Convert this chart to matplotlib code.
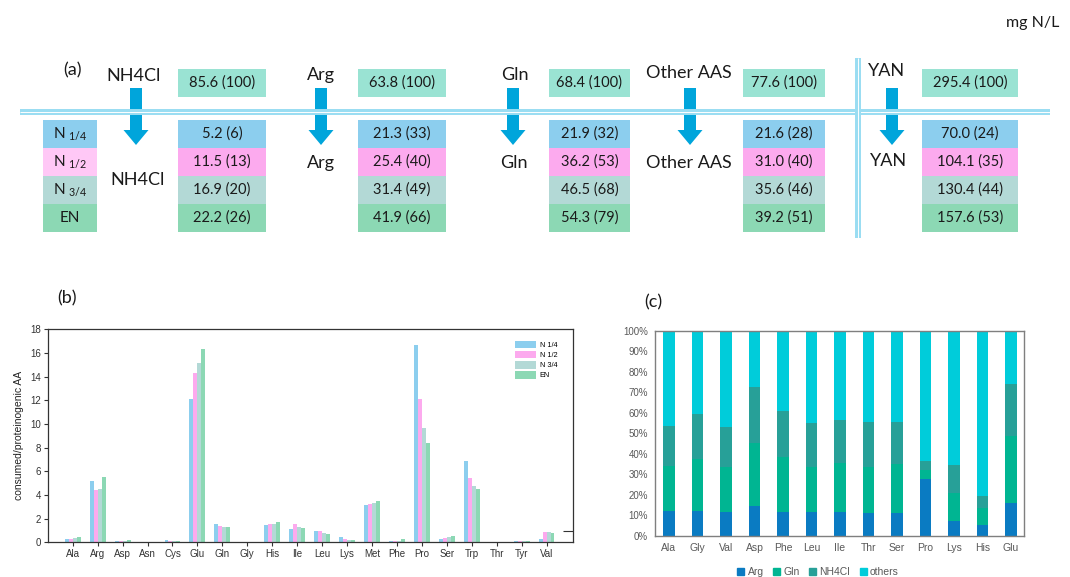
import matplotlib
matplotlib.use("Agg")
import matplotlib.pyplot as plt
import numpy as np
from matplotlib.patches import Rectangle, FancyArrow, Patch

# ---------------- data ----------------
# (a) nitrogen balance, mg N/L
sources = ['NH4Cl', 'Arg', 'Gln', 'Other AAS', 'YAN']
totals = ['85.6 (100)', '63.8 (100)', '68.4 (100)', '77.6 (100)', '295.4 (100)']
cond_labels = [r'N $\mathregular{_{1/4}}$', r'N $\mathregular{_{1/2}}$', r'N $\mathregular{_{3/4}}$', 'EN']
nh4cl_vals = ['5.2 (6)', '11.5 (13)', '16.9 (20)', '22.2 (26)']
arg_vals = ['21.3 (33)', '25.4 (40)', '31.4 (49)', '41.9 (66)']
gln_vals = ['21.9 (32)', '36.2 (53)', '46.5 (68)', '54.3 (79)']
other_vals = ['21.6 (28)', '31.0 (40)', '35.6 (46)', '39.2 (51)']
yan_vals = ['70.0 (24)', '104.1 (35)', '130.4 (44)', '157.6 (53)']

# (b) consumed / proteinogenic AA
aa_b = ['Ala', 'Arg', 'Asp', 'Asn', 'Cys', 'Glu', 'Gln', 'Gly', 'His', 'Ile',
        'Leu', 'Lys', 'Met', 'Phe', 'Pro', 'Ser', 'Trp', 'Thr', 'Tyr', 'Val']
n14 = [0.27, 5.15, 0.14, 0, 0.17, 12.1, 1.55, 0, 1.49, 1.15, 0.93, 0.44, 3.15, 0.14, 16.7, 0.30, 6.87, 0, 0.12, 0.28]
n12 = [0.30, 4.40, 0.14, 0, 0.15, 14.3, 1.40, 0, 1.55, 1.57, 0.93, 0.28, 3.20, 0.14, 12.15, 0.35, 5.47, 0, 0.10, 0.85]
n34 = [0.33, 4.50, 0.15, 0, 0.10, 15.15, 1.30, 0, 1.56, 1.27, 0.80, 0.22, 3.30, 0.15, 9.65, 0.45, 4.73, 0, 0.10, 0.87]
en = [0.42, 5.50, 0.17, 0, 0.10, 16.3, 1.30, 0, 1.69, 1.18, 0.73, 0.20, 3.52, 0.25, 8.40, 0.55, 4.48, 0, 0.12, 0.80]
series_b = ['N 1/4', 'N 1/2', 'N 3/4', 'EN']

# (c) origin of N in AA (%)
aa_c = ['Ala', 'Gly', 'Val', 'Asp', 'Phe', 'Leu', 'Ile', 'Thr', 'Ser', 'Pro', 'Lys', 'His', 'Glu']
c_arg = [12.2, 12.2, 11.7, 14.8, 11.7, 11.9, 11.7, 11.0, 11.4, 27.8, 7.5, 5.2, 15.9]
c_gln = [22.1, 25.1, 21.7, 30.5, 26.6, 21.5, 23.7, 22.4, 23.7, 4.3, 13.3, 8.4, 33.0]
c_nh4 = [19.3, 22.3, 19.7, 27.1, 22.6, 21.6, 21.1, 22.0, 20.3, 4.3, 13.9, 5.9, 25.1]
c_oth = [46.4, 40.4, 46.9, 27.6, 39.1, 45.0, 43.5, 44.6, 44.6, 63.6, 65.3, 80.5, 26.0]
series_c = ['Arg', 'Gln', 'NH4Cl', 'others']

# ---------------- figure ----------------
W, H = 1070, 577
fig = plt.figure(figsize=(W / 100, H / 100), dpi=100)
fa = 'Lato'
fb = 'Liberation Sans'
tc = '#1a1a1a'

ov = fig.add_axes([0, 0, 1, 1])
ov.set_xlim(0, W)
ov.set_ylim(H, 0)
ov.axis('off')

col_colors = ['#8CCEEE', '#FCAAEE', '#B3D9D6', '#8CD8B4']
leg_colors = ['#8CCEEE', '#FFC8F6', '#B3D9D6', '#8CD8B4']
top_color = '#9AE3D3'
arrow_color = '#00A5DB'
line_color = '#9ADDF2'

# horizontal and vertical double lines
ov.plot([20, 1050], [112, 112], color=line_color, lw=4.3, solid_capstyle='butt')
ov.plot([20, 1050], [112, 112], color='white', lw=0.7, solid_capstyle='butt')
ov.plot([858, 858], [58, 238], color=line_color, lw=4.3, solid_capstyle='butt')
ov.plot([858, 858], [58, 238], color='white', lw=0.7, solid_capstyle='butt')

ov.text(73, 70, '(a)', fontsize=13, family=fa, ha='center', va='center', color=tc)
ov.text(1033, 23, 'mg N/L', fontsize=11.5, family=fa, ha='center', va='center', color=tc)

# legend column
row_h = 28
y0 = 120
for i, (lab, c) in enumerate(zip(cond_labels, leg_colors)):
    ov.add_patch(Rectangle((43, y0 + i * row_h), 54, row_h, color=c, lw=0))
    ov.text(70, y0 + i * row_h + row_h / 2, lab, fontsize=11, family=fa,
            ha='center', va='center', color=tc)

box_x = [(178, 88), (358, 88), (549, 81), (743, 82), (922, 96)]
arrow_x = [136, 321, 513, 690, 892]
top_lab = [(134, 76), (321, 75), (515, 75), (689, 73), (887, 71)]
low_lab = [(138, 180), (321, 163), (514, 163), (689, 163), (889, 161)]
col_vals = [nh4cl_vals, arg_vals, gln_vals, other_vals, yan_vals]

for k, src in enumerate(sources):
    bx, bw = box_x[k]
    ov.add_patch(Rectangle((bx, 69), bw, 28, color=top_color, lw=0))
    ov.text(bx + bw / 2, 83, totals[k], fontsize=10.5, family=fa, ha='center', va='center', color=tc)
    for i, v in enumerate(col_vals[k]):
        ov.add_patch(Rectangle((bx, y0 + i * row_h), bw, row_h, color=col_colors[i], lw=0))
        ov.text(bx + bw / 2, y0 + i * row_h + row_h / 2, v, fontsize=10.5, family=fa,
                ha='center', va='center', color=tc)
    ov.text(top_lab[k][0], top_lab[k][1], src, fontsize=13, family=fa, ha='center', va='center', color=tc)
    ov.text(low_lab[k][0], low_lab[k][1], src, fontsize=13, family=fa, ha='center', va='center', color=tc)
    ov.add_patch(FancyArrow(arrow_x[k], 88, 0, 57, width=12, head_width=25, head_length=15,
                            length_includes_head=True, color=arrow_color, lw=0))

ov.text(67, 298, '(b)', fontsize=13, family=fa, ha='center', va='center', color=tc)
ov.text(653, 302, '(c)', fontsize=13, family=fa, ha='center', va='center', color=tc)

# ---------------- (b) ----------------
axb = fig.add_axes([48.3 / W, 1 - 542.3 / H, (572.7 - 48.3) / W, 213 / H])
x = np.arange(len(aa_b))
bw = 0.16
for j, (vals, c) in enumerate(zip([n14, n12, n34, en], col_colors)):
    axb.bar(x + (j - 1.5) * bw, vals, width=bw, color=[c], lw=0, label=series_b[j])
axb.set_xlim(-0.98, 20.05)
axb.set_ylim(0, 18)
axb.set_yticks(np.arange(0, 19, 2))
axb.set_xticks(x)
axb.set_xticklabels(aa_b, family=fb, fontsize=7, color='#333333')
for t in axb.get_yticklabels():
    t.set_family(fb)
    t.set_fontsize(7)
    t.set_color('#333333')
axb.tick_params(axis='both', length=3, width=0.8, color='#333333', pad=2)
axb.set_ylabel('consumed/proteinogenic AA', family=fb, fontsize=7.5, color='#222222', labelpad=5)
for s in axb.spines.values():
    s.set_color('#333333')
    s.set_linewidth(0.9)
axb2 = axb.twinx()
axb2.set_ylim(0, 18)
axb2.set_yticks([0.95])
axb2.set_yticklabels([''])
axb2.tick_params(axis='y', direction='in', length=7, width=0.8, color='#333333')
for s in ['top', 'left', 'bottom', 'right']:
    axb2.spines[s].set_visible(False)
leg = axb.legend(loc='upper left', bbox_to_anchor=(0.885, 0.96), frameon=False,
                 prop={'family': fb, 'size': 5.3}, handlelength=2.8, handleheight=1.2,
                 labelspacing=0.25, handletextpad=0.5, borderaxespad=0)

# ---------------- (c) ----------------
axc = fig.add_axes([655 / W, 1 - 536 / H, 369 / W, 205.3 / H])
cc = ['#0A7BC2', '#00B592', '#27A098', '#00CCDA']
xc = np.arange(len(aa_c))
bottom = np.zeros(len(aa_c))
for vals, c, lab in zip([c_arg, c_gln, c_nh4, c_oth], cc, series_c):
    v = np.array(vals)
    axc.bar(xc, v, width=0.41, bottom=bottom, color=c, lw=0, label=lab)
    bottom += v
axc.set_xlim(-0.49, 12.46)
axc.set_ylim(0, 100)
axc.set_yticks(np.arange(0, 101, 10))
axc.set_yticklabels([f'{v}%' for v in range(0, 101, 10)], family=fb, fontsize=7, color='#595959')
axc.set_xticks(xc)
axc.set_xticklabels(aa_c, family=fb, fontsize=7.5, color='#595959')
axc.tick_params(axis='both', length=0, pad=5)
for s in axc.spines.values():
    s.set_color('#7f7f7f')
    s.set_linewidth(1.0)
handles = [Patch(color=c, label=l) for c, l in zip(cc, series_c)]
fig.legend(handles=handles, loc='center', bbox_to_anchor=(818 / W, 1 - 572 / H), ncol=4,
           frameon=False, prop={'family': fb, 'size': 7.5}, labelcolor='#595959',
           handlelength=0.7, handleheight=0.7, handletextpad=0.3, columnspacing=0.9)

fig.savefig('out.png', dpi=100, facecolor='white')
